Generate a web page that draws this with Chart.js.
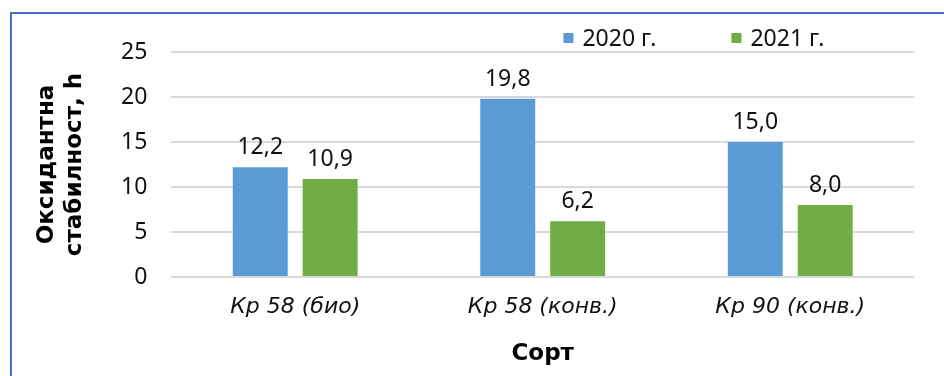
<!DOCTYPE html>
<html>
<head>
<meta charset="utf-8">
<script src="https://cdn.jsdelivr.net/npm/chart.js@4"></script>
<style>
  html, body { margin: 0; padding: 0; background: #fff; }
  #wrap { position: relative; width: 944px; height: 376px; }
  #frame {
    position: absolute; left: 10px; top: 12px; right: 0; bottom: 0;
    border-left: 2px solid #4472C4; border-top: 2px solid #4472C4;
  }
  canvas { position: absolute; left: 0; top: 0; }
</style>
</head>
<body>
<div id="wrap">
  <div id="frame"></div>
  <canvas id="myChart" width="944" height="376"></canvas>
</div>
<script>
const sorts = ['Кр 58 (био)', 'Кр 58 (конв.)', 'Кр 90 (конв.)'];
const years = ['2020 г.', '2021 г.'];
const values2020 = [12.2, 19.8, 15.0];
const values2021 = [10.9, 6.2, 8.0];
const yTicks = [0, 5, 10, 15, 20, 25];

const colors = ['#5B9BD5', '#70AD47'];
const NUM_FONT = '"Noto Sans", "Open Sans", sans-serif';
const FONT = '"DejaVu Sans", sans-serif';

function fmt(v) {
  return v.toFixed(1).replace('.', ',');
}

// value labels above each bar
const barLabels = {
  id: 'barLabels',
  afterDatasetsDraw(chart) {
    const ctx = chart.ctx;
    ctx.save();
    ctx.font = '23px ' + NUM_FONT;
    ctx.fillStyle = '#111';
    ctx.textAlign = 'center';
    ctx.textBaseline = 'alphabetic';
    chart.data.datasets.forEach((ds, i) => {
      chart.getDatasetMeta(i).data.forEach((bar, j) => {
        ctx.fillText(fmt(ds.data[j]), bar.x, bar.y - 13);
      });
    });
    ctx.restore();
  }
};

// legend drawn in the top right corner of the plot
const topLegend = {
  id: 'topLegend',
  afterDraw(chart) {
    const ctx = chart.ctx;
    const area = chart.chartArea;
    const starts = [area.left + 392, area.left + 560];
    ctx.save();
    ctx.font = '23px ' + NUM_FONT;
    ctx.textBaseline = 'middle';
    ctx.textAlign = 'left';
    chart.data.datasets.forEach((ds, i) => {
      const x = starts[i];
      const y = area.top - 14;
      ctx.fillStyle = ds.backgroundColor;
      ctx.fillRect(x, y - 5, 10, 10);
      ctx.fillStyle = '#111';
      ctx.fillText(ds.label, x + 19, y + 1);
    });
    ctx.restore();
  }
};

const ctx = document.getElementById('myChart').getContext('2d');
const myChart = new Chart(ctx, {
  type: 'bar',
  data: {
    labels: sorts,
    datasets: [{
      label: years[0],
      data: values2020,
      backgroundColor: colors[0],
      borderWidth: 0,
      categoryPercentage: 0.565,
      barPercentage: 0.786
    }, {
      label: years[1],
      data: values2021,
      backgroundColor: colors[1],
      borderWidth: 0,
      categoryPercentage: 0.565,
      barPercentage: 0.786
    }]
  },
  options: {
    responsive: false,
    animation: false,
    layout: { padding: { top: 52, right: 30, bottom: 8, left: 33 } },
    plugins: {
      legend: { display: false },
      tooltip: { enabled: false }
    },
    scales: {
      x: {
        grid: { display: false },
        border: { display: false },
        ticks: {
          color: '#111',
          padding: 9,
          font: { family: FONT, size: 22, style: 'italic' }
        },
        title: {
          display: true,
          text: 'Сорт',
          color: '#000',
          padding: { top: 11, bottom: 0 },
          font: { family: FONT, size: 23, weight: 'bold' }
        }
      },
      y: {
        min: 0,
        max: 25,
        afterBuildTicks(axis) {
          axis.ticks = yTicks.map(v => ({ value: v }));
        },
        grid: { color: '#D9D9D9', lineWidth: 2, drawTicks: false },
        border: { display: false },
        ticks: {
          color: '#111',
          padding: 24,
          font: { family: NUM_FONT, size: 23 }
        },
        title: {
          display: true,
          text: ['Оксидантна', 'стабилност, h'],
          color: '#000',
          padding: { top: 0, bottom: 8 },
          font: { family: FONT, size: 23, weight: 'bold', lineHeight: 1.22 }
        }
      }
    }
  },
  plugins: [barLabels, topLegend]
});
</script>
</body>
</html>
